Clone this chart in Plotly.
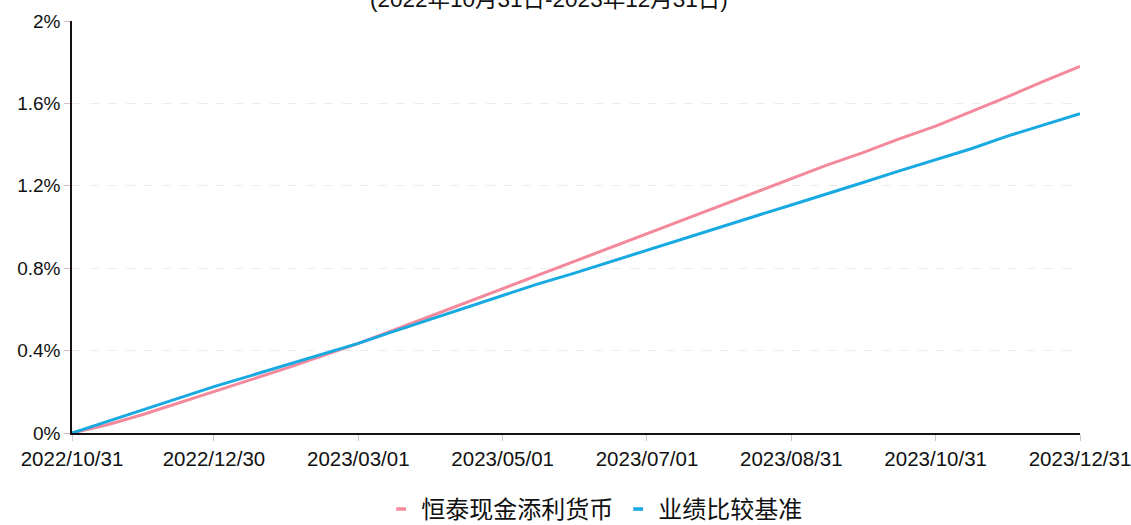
import plotly.graph_objects as go

dates = ["2022-10-31", "2022-11-15", "2022-11-30", "2022-12-15", "2022-12-30",
         "2023-01-15", "2023-01-31", "2023-02-15", "2023-03-01", "2023-03-15",
         "2023-03-31", "2023-04-15", "2023-05-01", "2023-05-15", "2023-05-31",
         "2023-06-15", "2023-07-01", "2023-07-15", "2023-07-31", "2023-08-15",
         "2023-08-31", "2023-09-15", "2023-09-30", "2023-10-15", "2023-10-31",
         "2023-11-15", "2023-11-30", "2023-12-15", "2023-12-31"]

fund = [0, 0.04, 0.09, 0.145, 0.20, 0.26, 0.32, 0.38, 0.435, 0.495,
        0.565, 0.63, 0.70, 0.765, 0.835, 0.90, 0.97, 1.03, 1.10, 1.165,
        1.235, 1.30, 1.36, 1.425, 1.49, 1.56, 1.63, 1.705, 1.78]

bench = [0, 0.057, 0.112, 0.168, 0.225, 0.28, 0.335, 0.39, 0.435, 0.49,
         0.55, 0.61, 0.67, 0.72, 0.775, 0.83, 0.888, 0.94, 0.995, 1.05,
         1.107, 1.16, 1.215, 1.27, 1.326, 1.38, 1.44, 1.495, 1.55]

x_tickvals = ["2022-10-31", "2022-12-30", "2023-03-01", "2023-05-01",
              "2023-07-01", "2023-08-31", "2023-10-31", "2023-12-31"]
x_ticktext = ["2022/10/31", "2022/12/30", "2023/03/01", "2023/05/01",
              "2023/07/01", "2023/08/31", "2023/10/31", "2023/12/31"]
y_tickvals = [0, 0.4, 0.8, 1.2, 1.6, 2.0]
y_ticktext = ["0%", "0.4%", "0.8%", "1.2%", "1.6%", "2%"]

series_names = ["恒泰现金添利货币", "业绩比较基准"]
series_colors = ["#f3899b", "#17a9e1"]
title_text = "(2022年10月31日-2023年12月31日)"

font_family = "Liberation Sans, Arial, Noto Sans CJK SC, sans-serif"

fig = go.Figure()
for vals, name, color in zip([fund, bench], series_names, series_colors):
    fig.add_trace(go.Scatter(x=dates, y=vals, mode="lines", name=name,
                             showlegend=False, line=dict(color=color, width=3)))
# legend entries drawn as short dashes
for name, color in zip(series_names, series_colors):
    fig.add_trace(go.Scatter(x=[None], y=[None], mode="markers", name=name,
                             marker=dict(symbol="line-ew", size=7,
                                         line=dict(color=color, width=3.5))))

fig.update_layout(
    width=1131, height=525,
    margin=dict(l=72, r=51, t=21, b=92, autoexpand=False),
    paper_bgcolor="white", plot_bgcolor="white",
    font=dict(family=font_family, color="#111111"),
    showlegend=True,
    legend=dict(orientation="h", x=0.518, xanchor="center",
                y=-0.131, yanchor="top",
                font=dict(size=24, family="Noto Sans CJK SC, sans-serif", color="#111111"),
                itemwidth=30, tracegroupgap=0, bgcolor="rgba(0,0,0,0)"),
    annotations=[dict(text=title_text, xref="paper", yref="paper",
                      x=0.473, y=1.016, xanchor="center", yanchor="bottom",
                      showarrow=False,
                      font=dict(size=22.5, family="Liberation Sans, Noto Sans CJK SC, sans-serif",
                                color="#111111"))],
)

fig.update_xaxes(
    type="date", range=["2022-10-31", "2023-12-31"],
    tickvals=x_tickvals, ticktext=x_ticktext,
    tickfont=dict(size=20.5), automargin=False, ticklabeloverflow="allow",
    showline=True, linecolor="#111111", linewidth=2,
    ticks="outside", ticklen=6, tickcolor="#d0c8c8",
    showgrid=False, zeroline=False,
)
fig.update_yaxes(
    range=[0, 2.0],
    tickvals=y_tickvals, ticktext=y_ticktext,
    tickfont=dict(size=19), automargin=False,
    showline=True, linecolor="#111111", linewidth=1.5,
    ticks="outside", ticklen=6, tickcolor="#e0b8c0",
    showgrid=True, gridcolor="#efebeb", griddash="dash", gridwidth=1,
    zeroline=False,
)

fig.write_html("out.html", config={"displayModeBar": False},
               post_script="document.body.style.margin='0px';document.body.style.overflow='hidden';")
